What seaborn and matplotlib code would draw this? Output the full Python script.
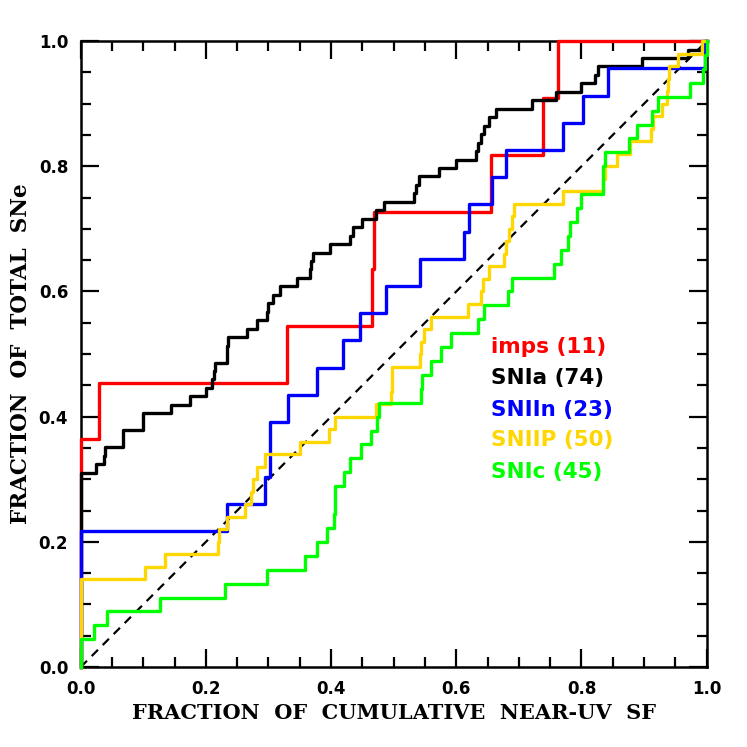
import numpy as np
import pandas as pd
import matplotlib
matplotlib.use("Agg")
import matplotlib.pyplot as plt
import seaborn as sns
from matplotlib.ticker import MultipleLocator

# fraction of cumulative near-UV SF at the position of each object
imps = [0, 0, 0, 0, 0.030, 0.330, 0.465, 0.468, 0.655, 0.738, 0.762]

snia = [0] * 23 + [0.025, 0.038, 0.039, 0.067, 0.068, 0.099, 0.100, 0.145, 0.174,
                   0.200, 0.209, 0.213, 0.214, 0.233, 0.234, 0.235, 0.265, 0.281,
                   0.298, 0.299, 0.307, 0.318, 0.345, 0.366, 0.368, 0.371, 0.398,
                   0.430, 0.435, 0.450, 0.471, 0.484, 0.532, 0.535, 0.540, 0.573,
                   0.600, 0.632, 0.635, 0.639, 0.644, 0.652, 0.664, 0.721, 0.759,
                   0.799, 0.821, 0.826, 0.896, 0.970, 0.994]

sniin = [0] * 5 + [0.233, 0.294, 0.302, 0.303, 0.331, 0.377, 0.419, 0.446, 0.488,
                   0.542, 0.613, 0.620, 0.657, 0.680, 0.771, 0.802, 0.842, 0.998]

sniip = [0] * 7 + [0.102, 0.134, 0.220, 0.221, 0.233, 0.262, 0.272, 0.275, 0.282,
                   0.294, 0.350, 0.396, 0.406, 0.471, 0.496, 0.497, 0.498, 0.542,
                   0.544, 0.548, 0.560, 0.618, 0.640, 0.643, 0.652, 0.677, 0.680,
                   0.684, 0.689, 0.693, 0.771, 0.835, 0.838, 0.856, 0.877, 0.911,
                   0.915, 0.928, 0.936, 0.938, 0.940, 0.955, 0.992]

snic = [0] * 2 + [0.021, 0.042, 0.126, 0.230, 0.297, 0.358, 0.377, 0.393, 0.405,
                  0.406, 0.407, 0.421, 0.430, 0.448, 0.463, 0.474, 0.477, 0.544,
                  0.545, 0.560, 0.575, 0.592, 0.634, 0.645, 0.682, 0.689, 0.756,
                  0.768, 0.778, 0.781, 0.793, 0.800, 0.834, 0.835, 0.838, 0.876,
                  0.888, 0.912, 0.922, 0.973, 0.994, 0.997, 1.000]

names = ["imps", "SNIa", "SNIIn", "SNIIP", "SNIc"]
samples = [imps, snia, sniin, sniip, snic]
colors = {"imps": "#ff0000", "SNIa": "#000000", "SNIIn": "#0000ff",
          "SNIIP": "#ffd700", "SNIc": "#00ff00"}

# build cumulative fractions: start at (0,0), one step per object, end at (1,1)
rows = []
for name, vals in zip(names, samples):
    v = np.sort(vals)
    n = len(v)
    xs = np.concatenate([[0.0], v, [1.0]])
    ys = np.concatenate([[0.0], np.arange(1, n + 1) / n, [1.0]])
    rows.append(pd.DataFrame({"x": xs, "y": ys, "sample": name}))
df = pd.concat(rows, ignore_index=True)

fig = plt.figure(figsize=(7.47, 7.47), dpi=100)
ax = fig.add_axes([0.108, 0.107, 0.838, 0.838])

# one-to-one line
ax.plot([0, 1], [0, 1], color="black", ls=(0, (4, 3)), lw=1.6, zorder=2)

for name in names:
    sub = df[df["sample"] == name]
    sns.lineplot(data=sub, x="x", y="y", color=colors[name], drawstyle="steps-post",
                 estimator=None, sort=False, lw=2.4, ax=ax, zorder=3, clip_on=False)

ax.set_xlim(0, 1)
ax.set_ylim(0, 1)
ax.xaxis.set_major_locator(MultipleLocator(0.2))
ax.yaxis.set_major_locator(MultipleLocator(0.2))
ax.xaxis.set_minor_locator(MultipleLocator(0.05))
ax.yaxis.set_minor_locator(MultipleLocator(0.05))
ax.tick_params(which="both", direction="in", top=True, right=True, width=1.6)
ax.tick_params(which="major", length=13, pad=9)
ax.tick_params(which="minor", length=7)
for lab in ax.get_xticklabels() + ax.get_yticklabels():
    lab.set_fontweight("bold")
    lab.set_fontsize(12)
for sp in ax.spines.values():
    sp.set_linewidth(1.8)

ax.set_xlabel("FRACTION  OF  CUMULATIVE  NEAR-UV  SF", fontsize=15, fontweight="bold",
              family="DejaVu Serif", labelpad=4)
ax.set_ylabel("FRACTION  OF  TOTAL  SNe", fontsize=15.5, fontweight="bold",
              family="DejaVu Serif", labelpad=5)

counts = [len(s) for s in samples]
label_y = [0.512, 0.461, 0.411, 0.362, 0.312]
for name, n, yy in zip(names, counts, label_y):
    ax.text(0.655, yy, f"{name} ({n})", color=colors[name], fontsize=15.5,
            fontweight="bold", family="DejaVu Sans", va="center", ha="left")

fig.savefig("out.png", dpi=100)
